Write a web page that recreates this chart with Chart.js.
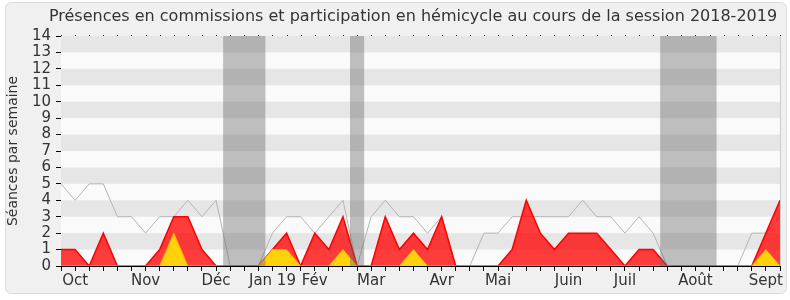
<!DOCTYPE html>
<html>
<head>
<meta charset="utf-8">
<script src="https://cdn.jsdelivr.net/npm/chart.js@4.4.0/dist/chart.umd.min.js"></script>
<style>
  html, body { margin: 0; padding: 0; background: #fff; }
  #wrap { position: relative; width: 790px; height: 300px; }
  #panel {
    position: absolute; left: 5px; top: 2px; width: 780px; height: 290px;
    background: #f0f0f0; border: 1px solid #dcdcdc; border-radius: 6px;
  }
  #chart { position: absolute; left: 0; top: 0; }
</style>
</head>
<body>
<div id="wrap">
  <div id="panel"></div>
  <canvas id="chart" width="790" height="300"></canvas>
</div>
<script>
// one entry per week, session 2018-2019
const totalSeances = [5, 4, 5, 5, 3, 3, 2, 3, 3, 4, 3, 4, 0, 0, 0, 2, 3, 3, 2, 3, 4, 0, 3, 4, 3, 3,
                      2, 3, 0, 0, 2, 2, 3, 3, 3, 3, 3, 4, 3, 3, 2, 3, 2, 0, 0, 0, 0, 0, 0, 2, 2, 3];
const presences = [1, 1, 0, 2, 0, 0, 0, 1, 3, 3, 1, 0, 0, 0, 0, 1, 2, 0, 2, 1, 3, 0, 0, 3, 1, 2,
                   1, 3, 0, 0, 0, 0, 1, 4, 2, 1, 2, 2, 2, 1, 0, 1, 1, 0, 0, 0, 0, 0, 0, 0, 2, 4];
const participations = [0, 0, 0, 0, 0, 0, 0, 0, 2, 0, 0, 0, 0, 0, 0, 1, 1, 0, 0, 0, 1, 0, 0, 0, 0, 1,
                        0, 0, 0, 0, 0, 0, 0, 0, 0, 0, 0, 0, 0, 0, 0, 0, 0, 0, 0, 0, 0, 0, 0, 0, 1, 0];
const monthNames = ['Oct', 'Nov', 'Déc', 'Jan 19', 'Fév', 'Mar', 'Avr', 'Mai', 'Juin', 'Juil', 'Août', 'Sept'];
const monthWeek = [1, 6, 11, 15, 18, 22, 27, 31, 36, 40, 45, 50];
// holidays (first and last week index)
const vacStart = [12, 21, 43];
const vacEnd = [14, 21, 46];
const chartTitle = 'Présences en commissions et participation en hémicycle au cours de la session 2018-2019';

const weekLabels = totalSeances.map((v, i) => {
    const k = monthWeek.indexOf(i);
    return k >= 0 ? monthNames[k] : '';
});

const textColor = '#333';
const fontFamily = '"DejaVu Sans", Verdana, sans-serif';

const backdrop = {
    id: 'backdrop',
    beforeDatasetsDraw(chart) {
        const { ctx, chartArea: a, scales: { y } } = chart;
        ctx.save();
        ctx.fillStyle = '#fafafa';
        ctx.fillRect(a.left, a.top, a.right - a.left, a.bottom - a.top);
        ctx.fillStyle = '#e6e6e6';
        for (let v = 1; v < 14; v += 2) {
            const y1 = y.getPixelForValue(v + 1), y0 = y.getPixelForValue(v);
            ctx.fillRect(a.left, y1, a.right - a.left, y0 - y1);
        }
        ctx.restore();
    },
    afterDatasetsDraw(chart) {
        const { ctx, chartArea: a, scales: { x } } = chart;
        ctx.save();
        ctx.fillStyle = 'rgba(100, 100, 100, 0.4)';
        vacStart.forEach((s, k) => {
            const x0 = x.getPixelForValue(s - 0.5), x1 = x.getPixelForValue(vacEnd[k] + 0.5);
            ctx.fillRect(x0, a.top, x1 - x0, a.bottom - a.top);
        });
        // light right border and dotted top edge
        ctx.strokeStyle = '#cccccc';
        ctx.lineWidth = 1;
        ctx.beginPath();
        ctx.moveTo(a.right + 0.5, a.top);
        ctx.lineTo(a.right + 0.5, a.bottom);
        ctx.stroke();
        ctx.fillStyle = '#222';
        for (let i = 0; i < totalSeances.length; i++) {
            ctx.fillRect(Math.round(x.getPixelForValue(i)), a.top - 1, 1, 1);
        }
        // title, centred a bit right of the canvas like the original
        ctx.fillStyle = textColor;
        ctx.font = '16px ' + fontFamily;
        ctx.textAlign = 'center';
        ctx.textBaseline = 'middle';
        ctx.fillText(chartTitle, 413, 17);
        ctx.restore();
    }
};

new Chart(document.getElementById('chart'), {
    type: 'line',
    data: {
        labels: weekLabels,
        datasets: [{
            label: 'Participations',
            data: participations,
            fill: 'origin',
            backgroundColor: '#ffd20a',
            borderColor: '#ffb000',
            borderWidth: 1,
            pointRadius: 0,
            tension: 0,
            order: 0
        }, {
            label: 'Présences',
            data: presences,
            fill: 'origin',
            backgroundColor: 'rgba(255, 0, 0, 0.76)',
            borderColor: '#ff0000',
            borderWidth: 1.5,
            pointRadius: 0,
            tension: 0,
            order: 1
        }, {
            label: 'Séances',
            data: totalSeances,
            fill: false,
            borderColor: '#b4b4b4',
            borderWidth: 1,
            pointRadius: 0,
            tension: 0,
            order: 2
        }]
    },
    options: {
        responsive: false,
        animation: false,
        events: [],
        layout: { padding: { left: 0, right: 10, top: 36, bottom: 0 } },
        plugins: {
            legend: { display: false },
            tooltip: { enabled: false },
            title: { display: false }
        },
        scales: {
            x: {
                afterFit: s => { s.height = 34; },
                grid: { drawOnChartArea: false, tickLength: 5, color: '#000' },
                border: { color: '#000' },
                ticks: {
                    autoSkip: false, maxRotation: 0, padding: 1,
                    color: textColor, font: { family: fontFamily, size: 15 }
                }
            },
            y: {
                min: 0,
                max: 14,
                afterFit: s => { s.width = 61; },
                grid: { drawOnChartArea: false, tickLength: 5, color: '#000' },
                border: { color: '#000' },
                ticks: {
                    stepSize: 1, autoSkip: false, padding: 5,
                    color: textColor, font: { family: fontFamily, size: 15, lineHeight: 1 }
                },
                title: {
                    display: true,
                    text: 'Séances par semaine',
                    color: textColor,
                    font: { family: fontFamily, size: 14 },
                    padding: { top: 5, bottom: 0 }
                }
            }
        }
    },
    plugins: [backdrop]
});
</script>
</body>
</html>
